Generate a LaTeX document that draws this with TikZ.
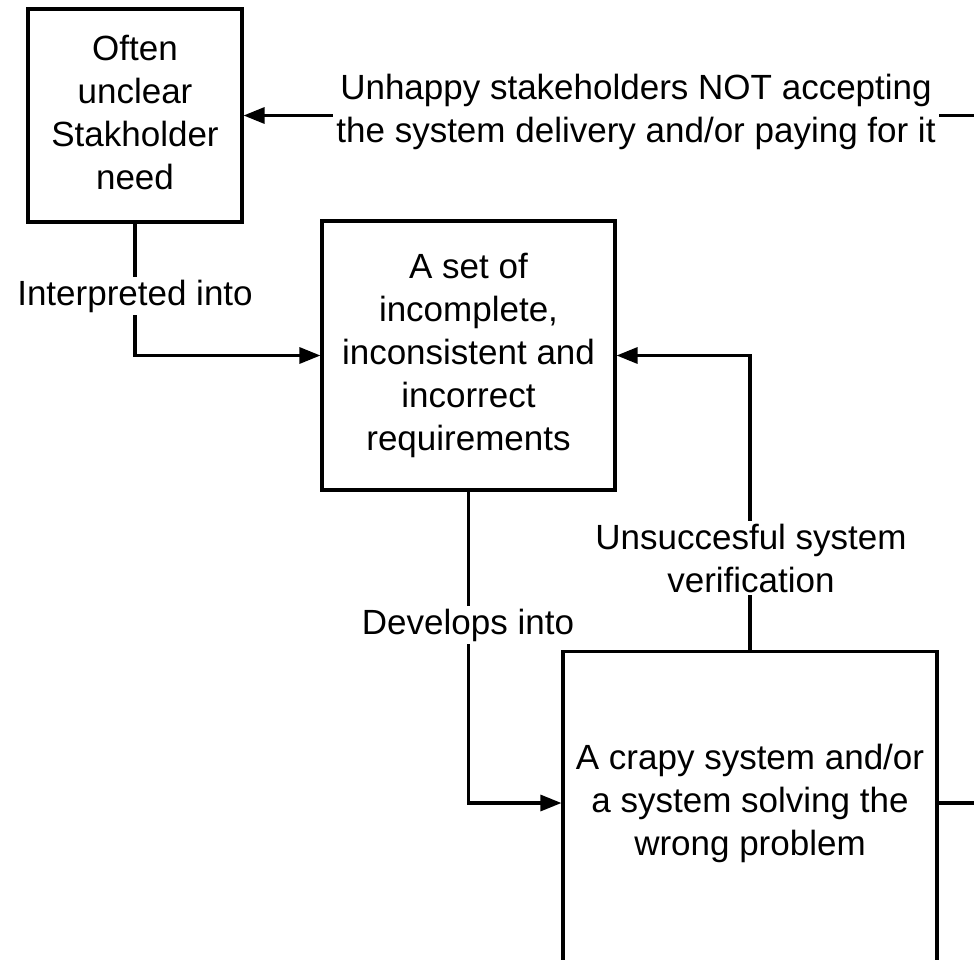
\documentclass[tikz,border=0pt]{standalone}
\usepackage{fontspec}
\setmainfont{Liberation Sans}
\usetikzlibrary{arrows.meta}
\begin{document}
\begin{tikzpicture}[x=1pt,y=-1pt,
  every node/.style={font=\fontsize{35}{43}\selectfont, align=center},
  box/.style={draw, line width=3.1pt, inner sep=0pt},
  tag/.style={fill=white, inner sep=3pt},
  link/.style={line width=3.1pt, -{Triangle[length=21pt,width=16pt]}}]
\clip (0,0) rectangle (974,960);

% boxes
\node[box, minimum width=214pt, minimum height=213pt] (need) at (135,115.5)
  {Often\\unclear\\Stakholder\\need\vphantom{g}};
\node[box, minimum width=293pt, minimum height=269pt] (reqs) at (468.5,355.5)
  {A set of\\incomplete,\\inconsistent and\\incorrect\\requirements};
\node[box, minimum width=374pt, minimum height=330pt, anchor=north] (sys) at (750,650) {};
\node (systext) at (750,803) {A crapy system and/or\\a system solving the\\wrong problem};

% connectors
\draw[link] (need.south) |- (reqs.west);
\draw[link] (reqs.south) |- (systext -| sys.west);
\draw[link] (sys.north) |- (reqs.east);
\draw[link] (systext -| sys.east) -- ++(50,0) |- (need.east);

% connector labels
\node[tag] (interp) at (135,296) {Interpreted into};
\node[tag] (devel) at (468,625) {Develops into};
\node[tag] (verif) at (751,558) {Unsuccesful system\\verification};
\node[tag] (unhappy) at (636,112) {Unhappy stakeholders NOT accepting\\the system delivery and/or paying for it};
\end{tikzpicture}
\end{document}
